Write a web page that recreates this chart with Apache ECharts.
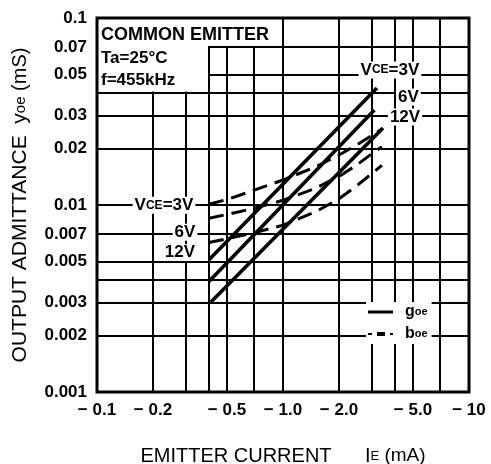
<!DOCTYPE html>
<html><head><meta charset="utf-8">
<script src="https://cdn.jsdelivr.net/npm/echarts@6/dist/echarts.min.js"></script>
<style>html,body{margin:0;padding:0;background:#fff}#c{width:491px;height:464px}</style>
</head><body><div id="c"></div>
<script>
// ---- axis ticks / labels (real values, mA and mS) ----
const xLabelValues = [0.1, 0.2, 0.5, 1, 2, 5, 10];
const xGridValues  = [0.1, 0.2, 0.3, 0.4, 0.5, 0.7, 1, 2, 3, 4, 5, 7, 10];
const yLabelValues = [0.001, 0.002, 0.003, 0.005, 0.007, 0.01, 0.02, 0.03, 0.05, 0.07, 0.1];
const yGridValues  = [0.001, 0.002, 0.003, 0.004, 0.005, 0.007, 0.01, 0.02, 0.03, 0.04, 0.05, 0.07, 0.1];

// ---- goe (solid) : |IE| (mA) vs goe (mS) ----
const goeIE_3V  = [0.4, 3.2];
const goe_3V    = [0.0051, 0.0422];
const goeIE_6V  = [0.4, 3.1];
const goe_6V    = [0.0039, 0.0322];
const goeIE_12V = [0.41, 3.45];
const goe_12V   = [0.00303, 0.0258];

// ---- boe (dashed) ----
const boeIE     = [0.4, 0.5, 0.7, 1.0, 1.5, 2.0, 2.5, 3.0, 3.4];
const boe_3V    = [0.0101, 0.0107, 0.0120, 0.0136, 0.0160, 0.0185, 0.0210, 0.0235, 0.0255];
const boe_6V    = [0.0085, 0.0089, 0.0096, 0.0106, 0.0123, 0.0142, 0.0164, 0.0188, 0.0205];
const boe_12V   = [0.0063, 0.0066, 0.0071, 0.0078, 0.0092, 0.0108, 0.0127, 0.0147, 0.0163];

const FONT = '"Liberation Sans", Arial, sans-serif';
const lg = v => Math.round(Math.log10(v) * 1e9) / 1e9;
const back = v => +Math.pow(10, v).toPrecision(3);

const chart = echarts.init(document.getElementById('c'), null, {renderer: 'canvas'});

const rich = {
  v: {fontFamily: FONT, fontWeight: 'bold', fontSize: 17, color: '#000'},
  s: {fontFamily: FONT, fontWeight: 'bold', fontSize: 12, color: '#000'}
};
const vceLabel = (volt) => '{v|V}{s|CE}{v|=' + volt + '}';

function mkLine(name, xs, ys, dashed, marks) {
  const s = {
    type: 'line', name: name,
    data: xs.map((x, i) => [lg(x), lg(ys[i])]),
    symbol: 'none', silent: true, animation: false, z: 3,
    lineStyle: {color: '#000', width: dashed ? 3 : 3.6, type: dashed ? [15, 8] : 'solid', cap: 'butt'},
    itemStyle: {color: '#000'}
  };
  if (marks) {
    s.markPoint = {
      symbol: 'rect', symbolSize: 1, silent: true, animation: false,
      itemStyle: {color: 'rgba(0,0,0,0)'},
      label: {show: true, position: 'inside', rich: rich, backgroundColor: '#fff', padding: [0, 2]},
      data: marks.map(m => ({coord: [lg(m.x), lg(m.y)], label: {formatter: m.text, offset: m.offset}}))
    };
  }
  return s;
}

const series = [
  mkLine('goe', goeIE_3V, goe_3V, false, [{x: goeIE_3V[1], y: goe_3V[1], text: vceLabel('3V'), offset: [13, -18]}]),
  mkLine('goe', goeIE_6V, goe_6V, false, [{x: goeIE_6V[1], y: goe_6V[1], text: '{v|6V}', offset: [34, -13]}]),
  mkLine('goe', goeIE_12V, goe_12V, false, [{x: goeIE_12V[1], y: goe_12V[1], text: '{v|12V}', offset: [22, -11]}]),
  mkLine('boe', boeIE, boe_3V, true, [{x: boeIE[0], y: boe_3V[0], text: vceLabel('3V'), offset: [-45, 1]}]),
  mkLine('boe', boeIE, boe_6V, true, [{x: boeIE[0], y: boe_6V[0], text: '{v|6V}', offset: [-24, 14]}]),
  mkLine('boe', boeIE, boe_12V, true, [{x: boeIE[0], y: boe_12V[0], text: '{v|12V}', offset: [-29, 10]}])
];

chart.setOption({
  animation: false,
  backgroundColor: '#fff',
  grid: {left: 97, top: 18, right: 22, bottom: 72, containLabel: false, outerBoundsMode: 'none'},
  xAxis: {
    type: 'value', min: lg(xGridValues[0]), max: lg(xGridValues[xGridValues.length - 1]),
    axisLine: {show: false},
    axisTick: {show: false, customValues: xGridValues.map(lg)},
    axisLabel: {
      customValues: xLabelValues.map(lg), margin: 10,
      fontFamily: FONT, fontWeight: 'bold', fontSize: 17, color: '#000',
      formatter: v => { const r = back(v); return '− ' + (r >= 10 ? '10' : r >= 1 ? r.toFixed(1) : String(r)); }
    },
    splitLine: {show: true, lineStyle: {color: '#000', width: 2}},
    name: '{t|EMITTER CURRENT}{t|      I}{s|E}{m| (mA)}',
    nameLocation: 'middle', nameGap: 54,
    nameTextStyle: {rich: {
      t: {fontFamily: FONT, fontSize: 20, color: '#000'},
      s: {fontFamily: FONT, fontSize: 13, color: '#000'},
      m: {fontFamily: FONT, fontSize: 19, color: '#000'}
    }}
  },
  yAxis: {
    type: 'value', min: lg(yGridValues[0]), max: lg(yGridValues[yGridValues.length - 1]),
    axisLine: {show: false},
    axisTick: {show: false, customValues: yGridValues.map(lg)},
    axisLabel: {
      customValues: yLabelValues.map(lg), margin: 10,
      fontFamily: FONT, fontWeight: 'bold', fontSize: 17, color: '#000',
      formatter: v => String(back(v))
    },
    splitLine: {show: true, lineStyle: {color: '#000', width: 2}},
    name: '{t|OUTPUT ADMITTANCE  y}{s|oe}{m| (mS)}',
    nameLocation: 'middle', nameGap: 66, nameRotate: 90,
    nameTextStyle: {rich: {
      t: {fontFamily: FONT, fontSize: 21, color: '#000'},
      s: {fontFamily: FONT, fontSize: 15, color: '#000'},
      m: {fontFamily: FONT, fontSize: 20, color: '#000'}
    }}
  },
  legend: {
    show: true, orient: 'vertical', left: 366, top: 302,
    data: [
      {name: 'goe', icon: 'path://M0,0h25v3h-25z'},
      {name: 'boe', icon: 'path://M0,1h4v2h-4z M9,0h8v4h-8z M22,1h3v2h-3z'}
    ],
    itemWidth: 25, itemHeight: 4, itemGap: 6, padding: [2, 4, 2, 2],
    itemStyle: {color: '#000', borderWidth: 0},
    backgroundColor: '#fff',
    formatter: n => '{g|' + n.charAt(0) + '}{s|' + n.slice(1) + '}',
    textStyle: {rich: {
      g: {fontFamily: FONT, fontWeight: 'bold', fontSize: 16, color: '#000', padding: [0, 0, 0, 7]},
      s: {fontFamily: FONT, fontWeight: 'bold', fontSize: 11, color: '#000'}
    }}
  },
  series: series
});

// masks / border / info text
const P = (x, y) => chart.convertToPixel({gridIndex: 0}, [lg(x), lg(y)]);
const tl = P(0.1, 0.1), br = P(10, 0.001);
const m1 = P(1.0, 0.07), m2 = P(0.4, 0.04);
chart.setOption({
  graphic: [
    {type: 'rect', z: 1, silent: true, shape: {x: tl[0], y: tl[1], width: m1[0] - tl[0] - 1, height: m1[1] - tl[1] - 1}, style: {fill: '#fff'}},
    {type: 'rect', z: 1, silent: true, shape: {x: tl[0], y: tl[1], width: m2[0] - tl[0] - 1, height: m2[1] - tl[1] - 1}, style: {fill: '#fff'}},
    {type: 'rect', z: 10, silent: true, shape: {x: tl[0], y: tl[1], width: br[0] - tl[0], height: br[1] - tl[1]}, style: {fill: null, stroke: '#000', lineWidth: 3}},
    {type: 'text', z: 11, silent: true, x: tl[0] + 4, y: tl[1] + 8, style: {text: 'COMMON EMITTER', font: 'bold 18px ' + FONT, fill: '#000'}},
    {type: 'text', z: 11, silent: true, x: tl[0] + 4, y: tl[1] + 32, style: {text: 'Ta=25°C', font: 'bold 17px ' + FONT, fill: '#000'}},
    {type: 'text', z: 11, silent: true, x: tl[0] + 4, y: tl[1] + 54, style: {text: 'f=455kHz', font: 'bold 17px ' + FONT, fill: '#000'}}
  ]
});
</script>
</body></html>
